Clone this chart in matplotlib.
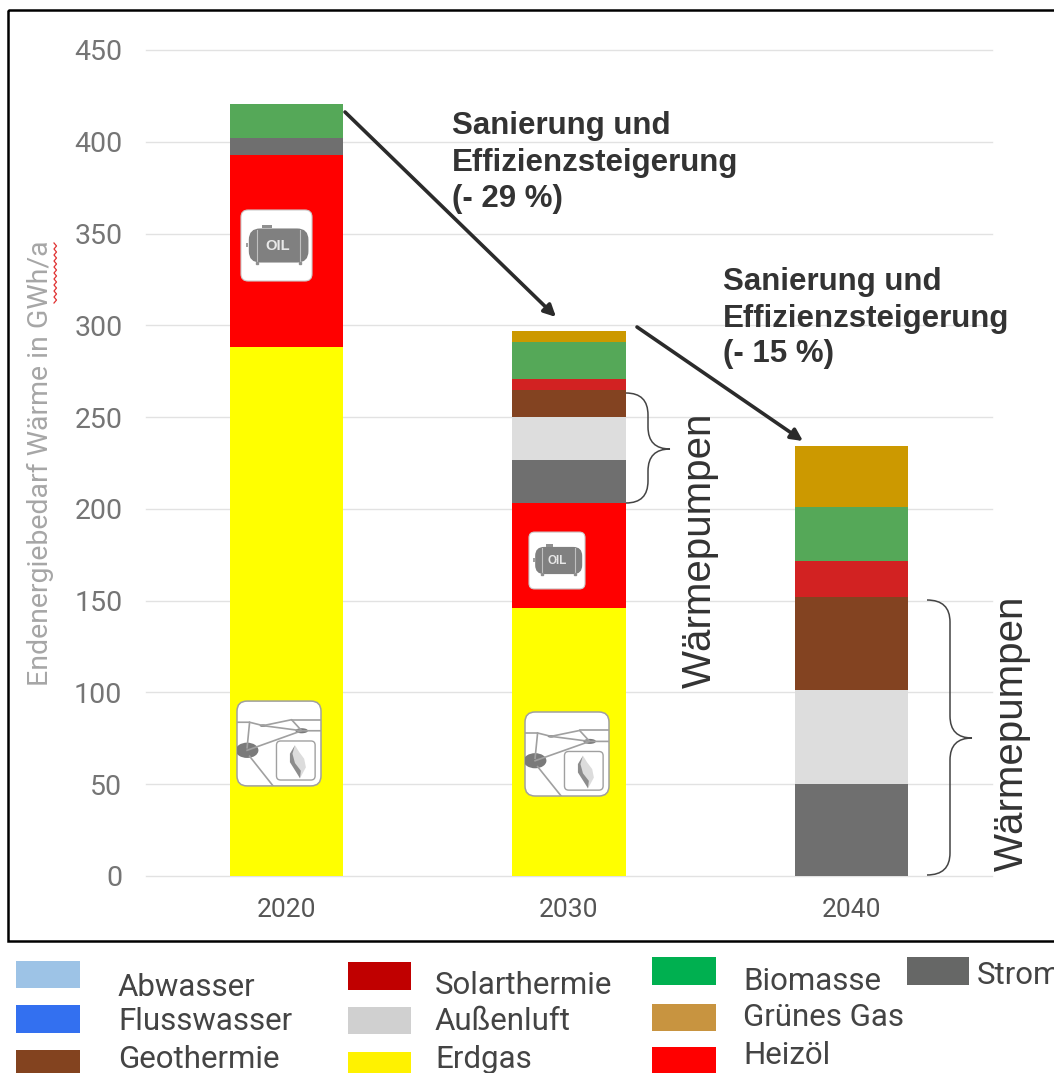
import matplotlib
matplotlib.use('Agg')
from matplotlib import pyplot as plt
from matplotlib.patches import FancyBboxPatch, Rectangle, Ellipse, PathPatch, Polygon
from matplotlib.path import Path

W, H = 1054, 1073

years = ['2020', '2030', '2040']
erdgas = [288, 146, 0]
heizoel = [105, 57, 0]
strom = [9, 23.5, 50]
aussenluft = [0, 23.5, 51.5]
geothermie = [0, 15, 50.5]
solarthermie = [0, 6, 19.5]
biomasse = [18.5, 20, 29.5]
gruenes_gas = [0, 6, 33]

series = [erdgas, heizoel, strom, aussenluft, geothermie, solarthermie, biomasse, gruenes_gas]
bar_colors = ['#ffff00', '#ff0000', '#6f6f6f', '#dddddd', '#834321', '#d22222', '#55a858', '#cc9900']

yticks = [0, 50, 100, 150, 200, 250, 300, 350, 400, 450]

legend_names = ['Abwasser', 'Flusswasser', 'Geothermie', 'Solarthermie', 'Außenluft', 'Erdgas',
                'Biomasse', 'Grünes Gas', 'Heizöl', 'Strom']
legend_colors = ['#9dc3e6', '#3370f0', '#83431f', '#c00000', '#d0d0d0', '#fff200',
                 '#00b050', '#c89440', '#ff0000', '#666766']

fig = plt.figure(figsize=(W / 100, H / 100), dpi=100)
ax = fig.add_axes([146 / W, 1 - 876 / H, (992 - 146) / W, (876 - 50) / H])

bottom = [0, 0, 0]
for values, color in zip(series, bar_colors):
    ax.bar(range(3), values, 0.4, bottom=bottom, color=color, zorder=3)
    bottom = [b + v for b, v in zip(bottom, values)]

ax.set_xlim(-0.497, 2.497)
ax.set_ylim(0, 450)
ax.set_yticks(yticks)
ax.set_xticks(range(3))
ax.set_xticklabels(years, fontfamily='Roboto', fontsize=19, color='#555555')
ax.tick_params(axis='x', length=0, pad=16)
ax.tick_params(axis='y', length=0, pad=17, labelsize=20.5, labelcolor='#757575')
for label in ax.get_yticklabels():
    label.set_fontfamily('Roboto')
ax.grid(axis='y', color='#e2e2e2', lw=1, zorder=0, clip_on=False)
for s in ax.spines.values():
    s.set_visible(False)

# everything on top is placed in picture pixels
ov = fig.add_axes([0, 0, 1, 1], zorder=5)
ov.set_xlim(0, W)
ov.set_ylim(H, 0)
ov.axis('off')
ov.patch.set_alpha(0)

# black frame, runs off the right side
ov.add_patch(Rectangle((8, 10), 1100, 931, fill=False, ec='black', lw=1.8, clip_on=True))

ov.text(40, 463, 'Endenergiebedarf Wärme in GWh/a', rotation=90, ha='center', va='center',
        fontfamily='Roboto', fontsize=20.5, color='#a6a6a6')
zig_y = list(range(243, 306, 3))
zig_x = [54 + (i % 2) * 2.5 for i in range(len(zig_y))]
ov.plot(zig_x, zig_y, color='#e03030', lw=0.9)


def arrow(x0, y0, x1, y1):
    ov.annotate('', xy=(x1, y1), xytext=(x0, y0),
                arrowprops=dict(arrowstyle='-|>,head_length=0.7,head_width=0.35', color='#2b2b2b',
                                lw=2.6, shrinkA=0, shrinkB=0))


arrow(345, 112, 556, 317)
arrow(637, 327, 803, 441)

bold = dict(fontfamily='Liberation Sans', fontweight='bold', fontsize=22.5, color='#333333', va='center')
for txt, y in zip(['Sanierung und', 'Effizienzsteigerung', '(- 29 %)'], [126, 163, 199]):
    ov.text(452, y, txt, **bold)
for txt, y in zip(['Sanierung und', 'Effizienzsteigerung', '(- 15 %)'], [282, 319, 354]):
    ov.text(723, y, txt, **bold)

rot = dict(fontfamily='Liberation Sans', fontsize=29, color='#333333', rotation=90, ha='center', va='center')
ov.text(700, 550, 'Wärmepumpen', **rot)
ov.text(1012, 733, 'Wärmepumpen', **rot)


def brace(x0, xm, xt, y0, ym, y1):
    c = min(22, (y1 - y0) / 4)
    verts = [(x0, y0), (xm, y0), (xm, y0 + c), (xm, ym - c), (xm, ym), (xt, ym),
             (xm, ym), (xm, ym + c), (xm, y1 - c), (xm, y1), (x0, y1)]
    codes = [Path.MOVETO, Path.CURVE3, Path.CURVE3, Path.LINETO, Path.CURVE3, Path.CURVE3,
             Path.CURVE3, Path.CURVE3, Path.LINETO, Path.CURVE3, Path.CURVE3]
    ov.add_patch(PathPatch(Path(verts, codes), fill=False, ec='#444444', lw=1.1))


brace(626, 648, 670, 393, 449, 503)
brace(927, 950, 972, 600, 738, 875)


def oil_icon(x, y, w, h):
    ov.add_patch(FancyBboxPatch((x + 0.08 * w, y + 0.08 * h), 0.84 * w, 0.84 * h,
                                boxstyle=f'round,pad={0.08 * w},rounding_size={0.1 * w}',
                                fc='white', ec='#cccccc', lw=0.8))
    ov.add_patch(FancyBboxPatch((x + 0.2 * w, y + 0.35 * h), 0.66 * w, 0.3 * h,
                                boxstyle=f'round,pad={0.09 * w},rounding_size={0.16 * w}',
                                fc='#808080', ec='none'))
    ov.add_patch(Rectangle((x + 0.3 * w, y + 0.21 * h), 0.13 * w, 0.05 * h, fc='#909090', ec='none'))
    for fx in [0.23, 0.83]:
        ov.plot([x + fx * w] * 2, [y + 0.28 * h, y + 0.72 * h], color='#c0c0c0', lw=0.8)
        ov.plot([x + fx * w], [y + 0.74 * h], 's', ms=1.6, color='#909090')
    ov.add_patch(Rectangle((x + 0.07 * w, y + 0.46 * h), 0.03 * w, 0.06 * h, fc='#a0a0a0', ec='none'))
    ov.text(x + 0.51 * w, y + 0.5 * h, 'OIL', ha='center', va='center', color='#e8e8e8',
            fontfamily='Liberation Sans', fontweight='bold', fontsize=w * 0.15)


def gas_icon(x, y, w, h):
    box = FancyBboxPatch((x + 0.1 * w, y + 0.1 * h), 0.8 * w, 0.8 * h,
                         boxstyle=f'round,pad={0.1 * w},rounding_size={0.12 * w}',
                         fc='white', ec='#a0a0a0', lw=1.1)
    ov.add_patch(box)

    def px(pts):
        return [(x + a * w, y + b * h) for a, b in pts]

    nets = [[(0, .25), (.15, .25), (.12, .55)],
            [(.15, .25), (.31, .29), (.65, .22), (.77, .35), (1, .35)],
            [(.31, .29), (.77, .35), (.12, .58)],
            [(.65, .22), (1, .22)],
            [(.15, .65), (.43, 1)]]
    for n in nets:
        pts = px(n)
        ln, = ov.plot([p[0] for p in pts], [p[1] for p in pts], color='#a0a0a0', lw=1.2)
        ln.set_clip_path(box)
    big = Ellipse((x + .12 * w, y + .58 * h), .27 * w, .18 * h, fc='#7a7a7a', ec='none')
    ov.add_patch(big)
    big.set_clip_path(box)
    ov.add_patch(Ellipse((x + .77 * w, y + .35 * h), .15 * w, .06 * h, fc='#7a7a7a', ec='none'))
    ov.add_patch(Ellipse((x + .31 * w, y + .29 * h), .08 * w, .03 * h, fc='#7a7a7a', ec='none'))
    ov.add_patch(FancyBboxPatch((x + .5 * w, y + .5 * h), .4 * w, .4 * h,
                                boxstyle=f'round,pad={.03 * w},rounding_size={.05 * w}',
                                fc='white', ec='#a0a0a0', lw=1))
    ov.add_patch(Polygon(px([(.69, .52), (.74, .6), (.8, .68), (.82, .78), (.75, .91), (.72, .8),
                             (.66, .72), (.65, .62)]), fc='#dcdcdc', ec='none'))
    ov.add_patch(Polygon(px([(.69, .52), (.66, .62), (.69, .73), (.76, .82), (.75, .91), (.7, .83),
                             (.63, .72), (.63, .62)]), fc='#8c8c8c', ec='none'))


oil_icon(241, 210, 71, 71)
oil_icon(529, 532, 56, 57)
gas_icon(237, 701, 84, 85)
gas_icon(525, 712, 84, 84)

# legend: swatch x, swatch y, text x, text y
sw_x = [16, 16, 16, 348, 348, 348, 652, 652, 652, 907]
sw_y = [961, 1005, 1050, 962, 1007, 1052, 957, 1004, 1047, 957]
sw_w = [64, 64, 64, 63, 63, 63, 64, 64, 64, 62]
sw_h = [27, 28, 27, 28, 27, 27, 28, 27, 30, 28]
tx_x = [118, 118, 118, 435, 435, 435, 743, 743, 743, 977]
tx_y = [987, 1022, 1059, 985, 1021, 1059, 982, 1018, 1055, 976]
for i, name in enumerate(legend_names):
    ov.add_patch(Rectangle((sw_x[i], sw_y[i]), sw_w[i], sw_h[i], fc=legend_colors[i], ec='none'))
    ov.text(tx_x[i], tx_y[i], name, ha='left', va='center', fontfamily='Roboto',
            fontsize=22.5, color='#444444')

fig.savefig('out.png', dpi=100)
